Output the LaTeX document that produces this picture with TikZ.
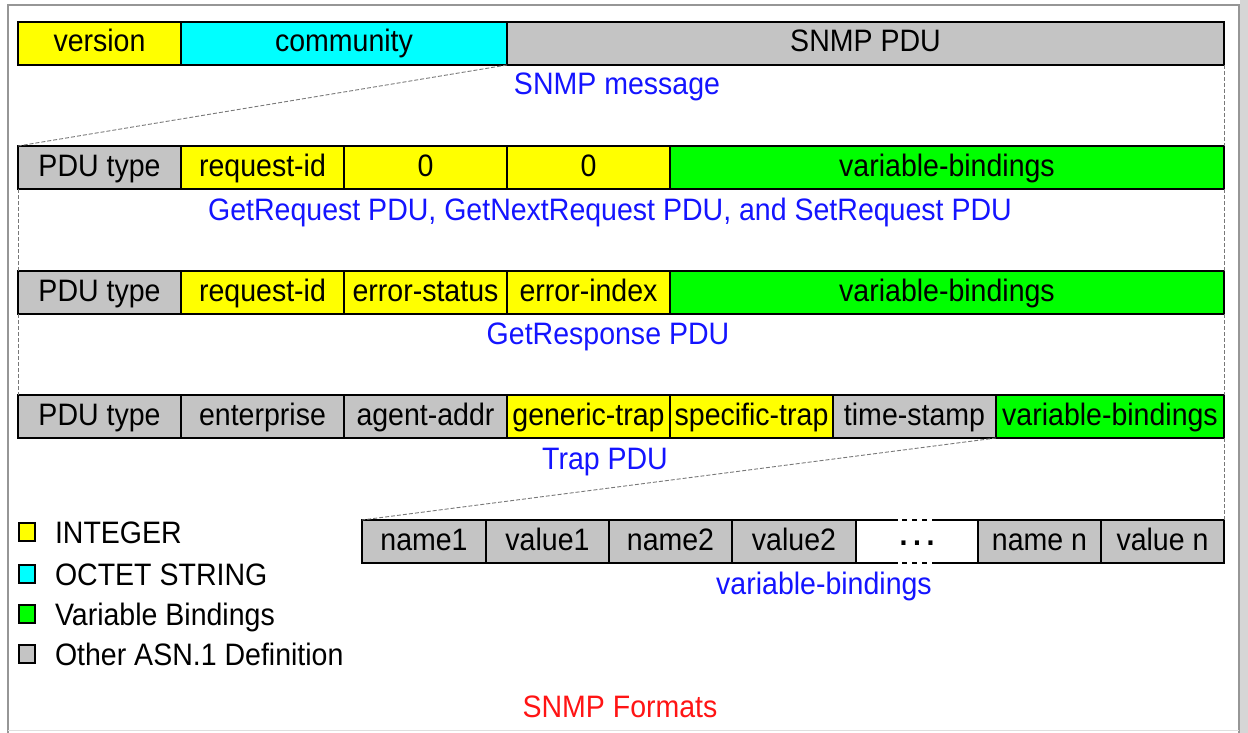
\documentclass[tikz,border=0pt]{standalone}
\usepackage{fontspec}
\setmainfont{Liberation Sans}[FakeStretch=0.92]
\definecolor{fyellow}{RGB}{255,255,0}
\definecolor{fcyan}{RGB}{0,255,255}
\definecolor{fgreen}{RGB}{0,255,0}
\definecolor{fgray}{RGB}{196,196,196}
\definecolor{capblue}{RGB}{20,20,255}
\definecolor{capred}{RGB}{255,20,20}
\definecolor{framegray}{RGB}{150,150,150}
\definecolor{linkgray}{RGB}{120,120,120}
\begin{document}
\begin{tikzpicture}[x=1pt,y=-1pt,
  every node/.style={font=\fontsize{31}{36}\selectfont, inner sep=0pt, outer sep=0pt},
  field/.style={draw=black, line width=1.6pt, minimum height=43pt, anchor=north west,
                text height=23pt, text depth=6pt},
  narrow/.style={field, minimum width=163pt},
  caption/.style={text=capblue, anchor=base},
  key/.style={draw=black, line width=1.4pt, minimum width=16pt, minimum height=18pt},
  keytext/.style={anchor=base west},
  link/.style={draw=linkgray, line width=0.9pt, dash pattern=on 4pt off 2pt}]
\useasboundingbox (0,0) rectangle (1248,733);

% window frame
\fill[fgray!70] (1240,0) rectangle (1248,733);
\draw[framegray, line width=1.5pt] (8,733) -- (8,5) -- (1239,5) -- (1239,733);
\draw[gray!25, line width=1pt] (8,730) -- (1239,730);

% SNMP message
\node[narrow, fill=fyellow] (version) at (18,22) {version};
\node[field, fill=fcyan, minimum width=326pt] (community) at (181,22) {community};
\node[field, fill=fgray, minimum width=717pt] (pdu) at (507,22) {SNMP PDU};
\node[caption] (capmsg) at (617,95) {SNMP message};

% GetRequest / GetNextRequest / SetRequest
\node[narrow, fill=fgray] (typeA) at (18,146) {PDU type};
\node[narrow, fill=fyellow] (reqA) at (181,146) {request-id};
\node[narrow, fill=fyellow] (zeroA) at (344,146) {0};
\node[narrow, fill=fyellow] (zeroB) at (507,146) {0};
\node[field, fill=fgreen, minimum width=554pt] (vbA) at (670,146) {variable-bindings};
\node[caption] (capget) at (610,220) {GetRequest PDU, GetNextRequest PDU, and SetRequest PDU};

% GetResponse
\node[narrow, fill=fgray] (typeB) at (18,271) {PDU type};
\node[narrow, fill=fyellow] (reqB) at (181,271) {request-id};
\node[narrow, fill=fyellow] (errs) at (344,271) {error-status};
\node[narrow, fill=fyellow] (erri) at (507,271) {error-index};
\node[field, fill=fgreen, minimum width=554pt] (vbB) at (670,271) {variable-bindings};
\node[caption] (capresp) at (608,344) {GetResponse PDU};

% Trap
\node[narrow, fill=fgray] (typeC) at (18,395) {PDU type};
\node[narrow, fill=fgray] (ent) at (181,395) {enterprise};
\node[narrow, fill=fgray] (addr) at (344,395) {agent-addr};
\node[narrow, fill=fyellow] (gtrap) at (507,395) {generic-trap};
\node[narrow, fill=fyellow] (strap) at (670,395) {specific-trap};
\node[narrow, fill=fgray] (tstamp) at (833,395) {time-stamp};
\node[field, fill=fgreen, minimum width=228pt] (vbC) at (996,395) {variable-bindings};
\node[caption] (captrap) at (605,469) {Trap PDU};

% variable-bindings list
\node[field, fill=fgray, minimum width=124pt] (name1) at (362,520) {name1};
\node[field, fill=fgray, minimum width=123pt] (value1) at (486,520) {value1};
\node[field, fill=fgray, minimum width=123pt] (name2) at (609,520) {name2};
\node[field, fill=fgray, minimum width=124pt] (value2) at (732,520) {value2};
\node[field, fill=fgray, minimum width=123pt] (namen) at (978,520) {name n};
\node[field, fill=fgray, minimum width=123pt] (valuen) at (1101,520) {value n};
\node[anchor=north west, minimum width=122pt, minimum height=43pt] (gap) at (856,520) {};
\node[anchor=base, yshift=-3.5pt] (dots) at (gap.center) {\bfseries .\hspace{5.6pt}.\hspace{5.6pt}.};
\draw[line width=1.6pt] (gap.north west) -- ++(42,0);
\draw[line width=1.6pt] (gap.north east) -- ++(-46,0);
\draw[line width=1.6pt] (gap.south west) -- ++(42,0);
\draw[line width=1.6pt] (gap.south east) -- ++(-46,0);
\draw[line width=1.6pt, dash pattern=on 5pt off 5pt]
  ([xshift=46pt]gap.north west) -- ([xshift=-46pt]gap.north east);
\draw[line width=1.6pt, dash pattern=on 5pt off 5pt]
  ([xshift=46pt]gap.south west) -- ([xshift=-46pt]gap.south east);
\node[caption] (capvb) at (824,594) {variable-bindings};

% expansion guides
\draw[link] (pdu.south west) -- (typeA.north west);
\draw[link] (pdu.south east) -- (vbA.north east);
\draw[link] (typeA.south west) -- (typeB.north west);
\draw[link] (vbA.south east) -- (vbB.north east);
\draw[link] (typeB.south west) -- (typeC.north west);
\draw[link] (vbB.south east) -- (vbC.north east);
\draw[link] (vbC.south west) -- (name1.north west);
\draw[link] (vbC.south east) -- (valuen.north east);

% legend
\node[key, fill=fyellow] (keyint) at (27,532) {};
\node[keytext] (txtint) at (55,543) {INTEGER};
\node[key, fill=fcyan] (keyoct) at (27,574) {};
\node[keytext] (txtoct) at (55,585) {OCTET STRING};
\node[key, fill=fgreen] (keyvb) at (27,614) {};
\node[keytext] (txtvb) at (55,625) {Variable Bindings};
\node[key, fill=fgray] (keyasn) at (27,654) {};
\node[keytext] (txtasn) at (55,665) {Other ASN.1 Definition};

\node[anchor=base, text=capred] (title) at (620,717) {SNMP Formats};
\end{tikzpicture}
\end{document}
